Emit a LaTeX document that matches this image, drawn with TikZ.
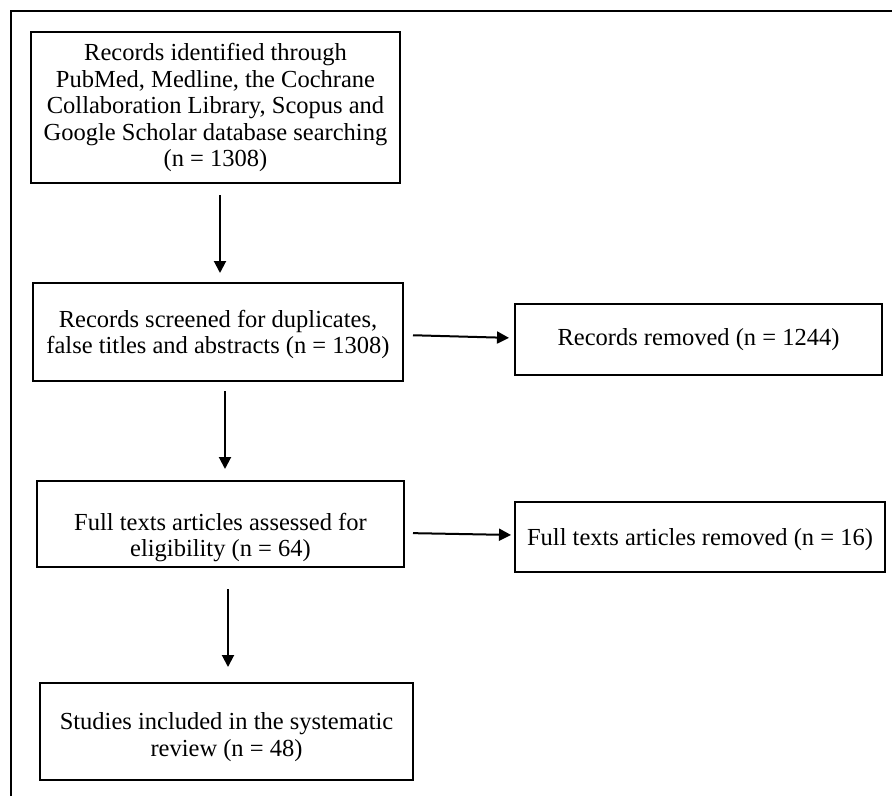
\documentclass[tikz,border=0pt]{standalone}
\usepackage{fontspec}
\setmainfont{Liberation Serif}
\usetikzlibrary{arrows.meta}
\begin{document}
\begin{tikzpicture}[x=1pt,y=-1pt,
  box/.style={draw,line width=2pt,align=center,inner sep=0pt,
    font=\fontsize{24.5}{26.5}\selectfont},
  arr/.style={line width=2pt,-{Triangle[width=12pt,length=12pt]}}]
\useasboundingbox (0,0) rectangle (892,796);
\draw[line width=2pt] (11,796) -- (11,10.5) -- (892,10.5);
\node[box,minimum width=369pt,minimum height=151pt] (b1) at (215.5,107.5)
  {Records identified through\\PubMed, Medline, the Cochrane\\Collaboration Library, Scopus and\\Google Scholar database searching\\(n = 1308)};
\node[box,minimum width=370pt,minimum height=98pt] (b2) at (218,332)
  {\rule{0pt}{22pt}Records screened for duplicates,\\false titles and abstracts (n = 1308)};
\node[box,minimum width=367pt,minimum height=71pt] (r1) at (698.5,339.5)
  {Records removed (n = 1244)};
\node[box,minimum width=367pt,minimum height=86pt] (b3) at (220.5,524)
  {\rule{0pt}{44pt}Full texts articles assessed for\\eligibility (n = 64)};
\node[box,minimum width=370pt,minimum height=70pt] (r2) at (700,537)
  {\rule{0pt}{22pt}Full texts articles removed (n = 16)};
\node[box,minimum width=373pt,minimum height=97pt] (b5) at (226.5,731.5)
  {\rule{0pt}{28pt}Studies included in the systematic\\review (n = 48)};
\draw[arr,shorten <=11pt,shorten >=9pt] ([xshift=4.5pt]b1.south) -- ([xshift=2pt]b2.north);
\draw[arr,shorten <=9pt,shorten >=11pt] ([xshift=7pt]b2.south) -- ([xshift=4.5pt]b3.north);
\draw[arr,shorten <=21pt,shorten >=15pt] ([xshift=7.5pt]b3.south) -- ([xshift=1.5pt]b5.north);
\draw[arr,shorten <=9pt,shorten >=5pt] ([yshift=-3pt]b2.east) -- ([yshift=1.5pt]r1.west);
\draw[arr,shorten <=8pt,shorten >=3pt] ([yshift=-9pt]b3.east) -- ([yshift=2pt]r2.west);
\end{tikzpicture}
\end{document}
